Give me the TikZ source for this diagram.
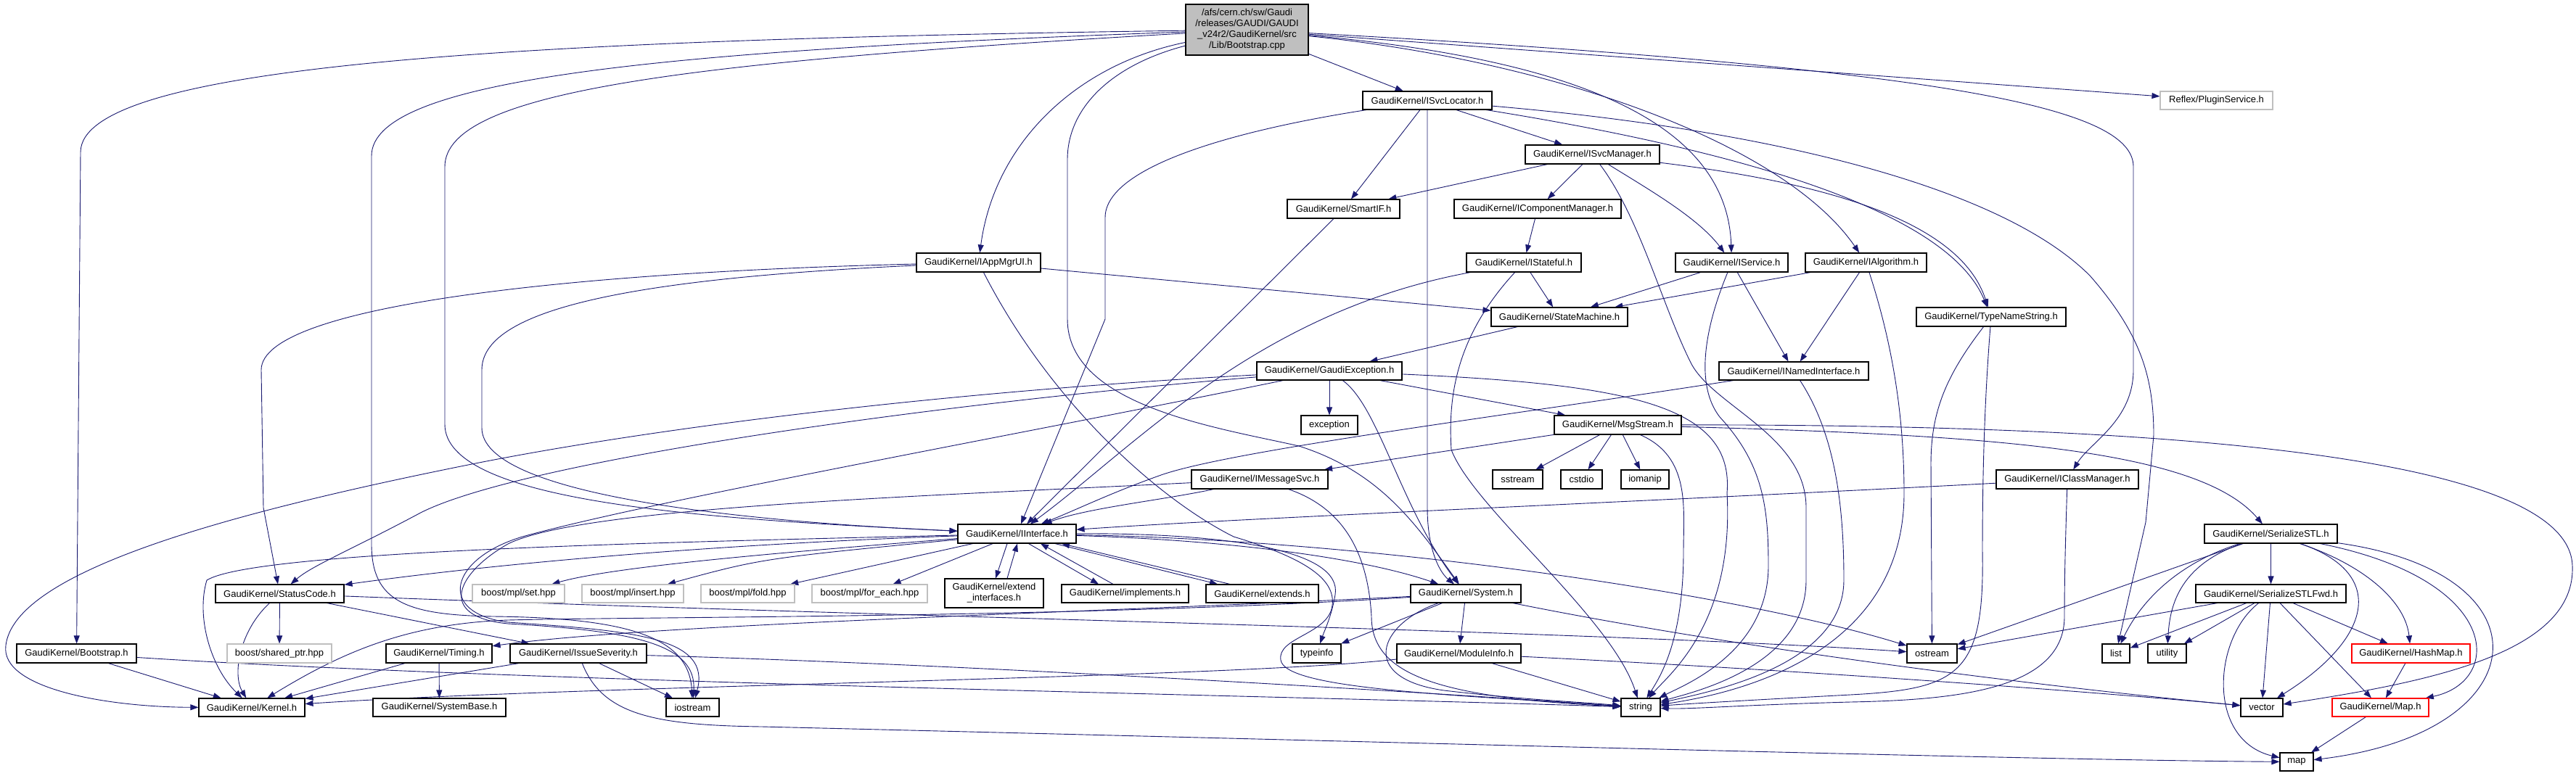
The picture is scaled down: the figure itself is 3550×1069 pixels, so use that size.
\documentclass[tikz,border=0pt]{standalone}
\usepackage{fontspec}
\newfontfamily\lsans{Liberation Sans}
\usetikzlibrary{arrows.meta,calc}
\definecolor{edgec}{HTML}{191970}
\definecolor{rootfill}{HTML}{BFBFBF}
\definecolor{greyline}{HTML}{BFBFBF}
\pgfdeclarelayer{bg}
\pgfsetlayers{bg,main}
\newcommand\mknode[6]{\node[#1,minimum width=#5pt,minimum height=#6pt] (#2) at (#3) {#4};}
\begin{document}
\begin{tikzpicture}[x=1pt,y=-1pt,
  nd/.style={draw=black,fill=white,line width=1.1pt,inner sep=0pt,align=center,font=\lsans\fontsize{13}{15}\selectfont},
  gnd/.style={nd,draw=greyline},
  rnd/.style={nd,draw=red},
  rootnd/.style={nd,fill=rootfill},
  e/.style={draw=edgec,line width=0.9pt,-{Triangle[length=11pt,width=8pt]}}]
\useasboundingbox (0,0) rectangle (3550,1069);
% nodes
\mknode{rootnd}{root}{1718.5,41}{/afs/cern.ch/sw/Gaudi\\/releases/GAUDI/GAUDI\\\_v24r2/GaudiKernel/src\\/Lib/Bootstrap.cpp}{169}{70}
\mknode{nd}{boot}{105.5,901}{GaudiKernel/Bootstrap.h}{165}{26}
\mknode{nd}{svcloc}{1967,138.5}{GaudiKernel/ISvcLocator.h}{178}{25}
\mknode{nd}{appmgr}{1348.5,362}{GaudiKernel/IAppMgrUI.h}{171}{26}
\mknode{nd}{svcmgr}{2194.5,213}{GaudiKernel/ISvcManager.h}{185}{26}
\mknode{nd}{smartif}{1851.5,288}{GaudiKernel/SmartIF.h}{155}{26}
\mknode{nd}{compmgr}{2119,288}{GaudiKernel/IComponentManager.h}{230}{26}
\mknode{nd}{stateful}{2100,362}{GaudiKernel/IStateful.h}{158}{26}
\mknode{nd}{iservice}{2386.5,362}{GaudiKernel/IService.h}{155}{26}
\mknode{nd}{ialgo}{2571.5,362}{GaudiKernel/IAlgorithm.h}{167}{26}
\mknode{nd}{statemach}{2149,437}{GaudiKernel/StateMachine.h}{188}{26}
\mknode{nd}{typename}{2744,437}{GaudiKernel/TypeNameString.h}{206}{26}
\mknode{nd}{gexc}{1832,511.5}{GaudiKernel/GaudiException.h}{200}{25}
\mknode{nd}{named}{2472,511.5}{GaudiKernel/INamedInterface.h}{206}{25}
\mknode{nd}{msgstream}{2229.5,586}{GaudiKernel/MsgStream.h}{175}{26}
\mknode{nd}{exception}{1832,586}{exception}{78}{26}
\mknode{nd}{msgsvc}{1736,661}{GaudiKernel/IMessageSvc.h}{188}{26}
\mknode{nd}{sstream}{2091.5,661}{sstream}{69}{26}
\mknode{nd}{cstdio}{2179.5,661}{cstdio}{57}{26}
\mknode{nd}{iomanip}{2267,661}{iomanip}{66}{26}
\mknode{nd}{classmgr}{2849,661}{GaudiKernel/IClassManager.h}{196}{26}
\mknode{gnd}{reflex}{3054.5,138.5}{Reflex/PluginService.h}{155}{25}
\mknode{nd}{iinterface}{1401.5,736}{GaudiKernel/IInterface.h}{163}{26}
\mknode{nd}{statuscode}{385.5,818.5}{GaudiKernel/StatusCode.h}{177}{25}
\mknode{gnd}{mplset}{714.5,818.5}{boost/mpl/set.hpp}{127}{25}
\mknode{gnd}{mplinsert}{872,818.5}{boost/mpl/insert.hpp}{140}{25}
\mknode{gnd}{mplfold}{1030.5,818.5}{boost/mpl/fold.hpp}{129}{25}
\mknode{gnd}{mplforeach}{1198.5,818.5}{boost/mpl/for\_each.hpp}{159}{25}
\mknode{nd}{extendif}{1370,818}{GaudiKernel/extend\\\_interfaces.h}{136}{40}
\mknode{nd}{implements}{1550.5,818.5}{GaudiKernel/implements.h}{175}{25}
\mknode{nd}{extends}{1739.5,818.5}{GaudiKernel/extends.h}{155}{25}
\mknode{nd}{system}{2020,818.5}{GaudiKernel/System.h}{152}{25}
\mknode{nd}{serstl}{3129.5,736}{GaudiKernel/SerializeSTL.h}{183}{26}
\mknode{nd}{serstlfwd}{3129.5,818.5}{GaudiKernel/SerializeSTLFwd.h}{207}{25}
\mknode{gnd}{sharedptr}{385,901}{boost/shared\_ptr.hpp}{144}{26}
\mknode{nd}{timing}{605,901}{GaudiKernel/Timing.h}{146}{26}
\mknode{nd}{issue}{797,901}{GaudiKernel/IssueSeverity.h}{188}{26}
\mknode{nd}{typeinfo}{1814.5,901}{typeinfo}{67}{26}
\mknode{nd}{moduleinfo}{2010.5,901}{GaudiKernel/ModuleInfo.h}{171}{26}
\mknode{nd}{ostream}{2662.5,901}{ostream}{69}{26}
\mknode{nd}{list}{2916,901}{list}{38}{26}
\mknode{nd}{utility}{2986.5,901}{utility}{53}{26}
\mknode{rnd}{hashmap}{3322.5,901}{GaudiKernel/HashMap.h}{163}{26}
\mknode{nd}{kernel}{347,975.5}{GaudiKernel/Kernel.h}{146}{25}
\mknode{nd}{sysbase}{605.5,975.5}{GaudiKernel/SystemBase.h}{183}{25}
\mknode{nd}{iostream}{954.5,975.5}{iostream}{73}{25}
\mknode{nd}{string}{2261,975.5}{string}{54}{25}
\mknode{nd}{vector}{3117,975.5}{vector}{58}{25}
\mknode{rnd}{mapH}{3280.5,975.5}{GaudiKernel/Map.h}{133}{25}
\mknode{nd}{map}{3165,1050.5}{map}{46}{25}
\begin{pgfonlayer}{bg}
\fill[white] (0,0) rectangle (3550,1069);
% root
\draw[e] (root) .. controls (700,55) and (111,90) .. (111,210) -- (boot);
\draw[e] (root) .. controls (900,70) and (512,110) .. (512,215) -- (512,750) .. controls (512,830) and (560,848) .. (680,850) .. controls (870,852) and (950,880) .. (iostream);
\draw[e] (root) .. controls (950,85) and (613,125) .. (613,230) -- (613,585) .. controls (613,690) and (950,715) .. (iinterface);
\draw[e] (root) .. controls (1480,90) and (1370,200) .. (appmgr);
\draw[e] (root) .. controls (1530,90) and (1471,150) .. (1471,220) -- (1471,440) .. controls (1471,560) and (1680,590) .. (1790,615) .. controls (1900,650) and (1950,720) .. (system);
\draw[e] (root) -- (svcloc);
\draw[e] (root) .. controls (2150,80) and (2380,160) .. (iservice);
\draw[e] (root) .. controls (2150,85) and (2460,200) .. (ialgo);
\draw[e] (root) -- (reflex);
\draw[e] (root) .. controls (2700,95) and (2940,150) .. (2940,230) -- (2940,510) .. controls (2940,580) and (2880,610) .. (classmgr);
% ISvcLocator
\draw[e] (svcloc) -- (svcmgr);
\draw[e] (svcloc) -- (smartif);
\draw[e] (svcloc) -- (1967,700) .. controls (1967,760) and (1985,790) .. (system);
\draw[e] (svcloc) .. controls (1700,180) and (1523,230) .. (1523,300) -- (1523,440) -- (iinterface);
\draw[e] (svcloc) .. controls (2350,200) and (2680,280) .. (typename);
\draw[e] (svcloc) .. controls (2450,180) and (2760,260) .. (2880,380) .. controls (2950,460) and (2968,520) .. (2968,600) -- (2957,720) -- (list);
% ISvcManager
\draw[e] (svcmgr) -- (smartif);
\draw[e] (svcmgr) -- (compmgr);
\draw[e] (svcmgr) .. controls (2270,260) and (2340,300) .. (iservice);
\draw[e] (svcmgr) .. controls (2500,250) and (2700,300) .. (typename);
\draw[e] (svcmgr) .. controls (2260,300) and (2290,420) .. (2330,500) .. controls (2360,560) and (2489,600) .. (2489,700) -- (2489,800) .. controls (2489,920) and (2330,955) .. (string);
\draw[e] (compmgr) -- (stateful);
\draw[e] (smartif) -- (iinterface);
% IStateful
\draw[e] (stateful) -- (statemach);
\draw[e] (stateful) .. controls (1730,430) and (1560,620) .. (iinterface);
\draw[e] (stateful) .. controls (2010,460) and (1995,540) .. (2000,620) .. controls (2030,700) and (2220,850) .. (string);
% IService
\draw[e] (iservice) -- (statemach);
\draw[e] (iservice) -- (named);
\draw[e] (iservice) .. controls (2350,450) and (2335,530) .. (2370,575) .. controls (2430,640) and (2437,700) .. (2437,780) .. controls (2437,900) and (2320,945) .. (string);
% IAlgorithm
\draw[e] (ialgo) -- (statemach);
\draw[e] (ialgo) -- (named);
\draw[e] (ialgo) .. controls (2610,480) and (2624,580) .. (2624,680) .. controls (2624,900) and (2400,955) .. (string);
% StateMachine, TypeNameString
\draw[e] (statemach) -- (gexc);
\draw[e] (typename) .. controls (2680,520) and (2661,570) .. (2661,640) -- (ostream);
\draw[e] (typename) .. controls (2735,550) and (2732,650) .. (2732,760) .. controls (2735,930) and (2700,950) .. (2550,958) .. controls (2420,965) and (2330,970) .. (string);
% INamedInterface
\draw[e] (named) .. controls (2100,570) and (1700,620) .. (1600,655) .. controls (1530,680) and (1490,700) .. (iinterface);
\draw[e] (named) .. controls (2530,600) and (2541,700) .. (2541,800) .. controls (2541,920) and (2350,955) .. (string);
% GaudiException
\draw[e] (gexc) -- (exception);
\draw[e] (gexc) -- (msgstream);
\draw[e] (gexc) .. controls (1900,560) and (1930,700) .. (system);
\draw[e] (gexc) .. controls (2250,530) and (2390,560) .. (2380,680) .. controls (2390,860) and (2300,930) .. (string);
\draw[e] (gexc) .. controls (1300,540) and (900,590) .. (650,640) .. controls (300,710) and (20,790) .. (8,890) .. controls (0,950) and (150,975) .. (kernel);
\draw[e] (gexc) .. controls (1250,560) and (700,640) .. (574,710) .. controls (480,760) and (430,780) .. (statuscode);
\draw[e] (gexc) .. controls (1400,600) and (900,690) .. (720,740) .. controls (620,770) and (600,845) .. (700,858) .. controls (880,870) and (980,880) .. (iostream);
% MsgStream
\draw[e] (msgstream) -- (msgsvc);
\draw[e] (msgstream) -- (sstream);
\draw[e] (msgstream) -- (cstdio);
\draw[e] (msgstream) -- (iomanip);
\draw[e] (msgstream) .. controls (2330,630) and (2320,700) .. (2320,760) .. controls (2320,880) and (2290,930) .. (string);
\draw[e] (msgstream) .. controls (2750,600) and (3030,620) .. (serstl);
\draw[e] (msgstream) .. controls (3000,585) and (3540,630) .. (3545,780) .. controls (3550,900) and (3350,940) .. (vector);
% IMessageSvc
\draw[e] (msgsvc) .. controls (1600,690) and (1500,700) .. (iinterface);
\draw[e] (msgsvc) .. controls (1850,700) and (1885,760) .. (1890,850) .. controls (1890,930) and (1980,962) .. (string);
\draw[e] (msgsvc) .. controls (1250,685) and (800,700) .. (700,750) .. controls (630,790) and (600,850) .. (700,860) .. controls (880,870) and (960,890) .. (iostream);
% IAppMgrUI
\draw[e] (appmgr) .. controls (800,375) and (360,420) .. (360,510) -- (363,700) -- (statuscode);
\draw[e] (appmgr) .. controls (850,385) and (664,430) .. (664,510) -- (664,590) .. controls (664,680) and (1000,718) .. (iinterface);
\draw[e] (appmgr) -- (statemach);
\draw[e] (appmgr) .. controls (1450,560) and (1600,690) .. (1700,740) .. controls (1800,770) and (1845,800) .. (1835,840) .. controls (1825,875) and (1760,880) .. (1765,910) .. controls (1770,950) and (2000,958) .. (string);
% IClassManager
\draw[e] (classmgr) .. controls (2300,690) and (1700,715) .. (iinterface);
\draw[e] (classmgr) .. controls (2846,760) and (2845,800) .. (2845,850) .. controls (2845,950) and (2700,965) .. (2550,968) .. controls (2400,972) and (2330,978) .. (string);
% IInterface
\draw[e] ($(iinterface.south)+(-13.5,0)$) -- ($(extendif.north)+(2,0)$);
\draw[e] ($(extendif.north)+(18,0)$) -- ($(iinterface.south)+(0.5,0)$);
\draw[e] ($(iinterface.south)+(16,0)$) -- ($(implements.north)+(-36.5,0)$);
\draw[e] ($(implements.north)+(-16.5,0)$) -- ($(iinterface.south)+(32.5,0)$);
\draw[e] ($(iinterface.south)+(52.5,0)$) -- ($(extends.north)+(-61.5,0)$);
\draw[e] ($(extends.north)+(-44.5,0)$) -- ($(iinterface.south)+(61.5,0)$);
\draw[e] (iinterface) -- (mplforeach);
\draw[e] (iinterface) -- (mplfold);
\draw[e] (iinterface) .. controls (1050,770) .. (mplinsert);
\draw[e] (iinterface) .. controls (1100,760) and (850,780) .. (mplset);
\draw[e] (iinterface) .. controls (1000,750) and (700,775) .. (statuscode);
\draw[e] (iinterface) .. controls (900,748) and (350,760) .. (285,800) .. controls (270,850) and (290,920) .. (kernel);
\draw[e] (iinterface) .. controls (1700,745) and (1880,770) .. (system);
\draw[e] (iinterface) .. controls (1700,735) and (1850,760) .. (1840,820) .. controls (1835,850) and (1825,870) .. (typeinfo);
\draw[e] (iinterface) .. controls (1900,745) and (2400,820) .. (ostream);
% StatusCode
\draw[e] (statuscode) .. controls (330,870) and (320,930) .. (kernel);
\draw[e] (statuscode) -- (sharedptr);
\draw[e] (statuscode) -- (issue);
\draw[e] (statuscode) .. controls (1200,850) and (2200,870) .. (ostream);
% Bootstrap.h, Timing, IssueSeverity
\draw[e] (boot) -- (kernel);
\draw[e] (boot) .. controls (700,940) and (1800,960) .. (string);
\draw[e] (timing) -- (kernel);
\draw[e] (timing) -- (sysbase);
\draw[e] (issue) -- (kernel);
\draw[e] (issue) -- (iostream);
\draw[e] (issue) .. controls (1300,915) and (1900,950) .. (string);
\draw[e] (issue) .. controls (830,985) and (900,1000) .. (1050,1002) .. controls (2000,1025) and (2800,1048) .. (map);
% ModuleInfo, System
\draw[e] ($(moduleinfo.west)+(0,8)$) .. controls (1700,935) and (800,945) .. (kernel);
\draw[e] (moduleinfo) -- (string);
\draw[e] (moduleinfo) .. controls (2500,925) and (2900,955) .. (vector);
\draw[e] (system) -- (typeinfo);
\draw[e] (system) -- (moduleinfo);
\draw[e] (system) .. controls (1900,860) and (1870,935) .. (1990,952) .. controls (2100,965) and (2180,968) .. (string);
\draw[e] (system) .. controls (1500,845) and (900,860) .. (timing);
\draw[e] (system) .. controls (1500,852) and (900,850) .. (700,855) .. controls (560,860) and (470,900) .. (kernel);
\draw[e] (system) .. controls (2450,905) and (2900,955) .. (vector);
% SerializeSTL
\draw[e] (serstl) -- (serstlfwd);
\draw[e] (serstl) -- (ostream);
\draw[e] (serstl) .. controls (2990,780) and (2945,840) .. (list);
\draw[e] (serstl) .. controls (3000,780) and (2990,840) .. (utility);
\draw[e] (serstl) .. controls (3290,790) and (3270,880) .. (vector);
\draw[e] (serstl) .. controls (3260,780) and (3315,830) .. (hashmap);
\draw[e] (serstl) .. controls (3450,800) and (3450,940) .. (mapH);
\draw[e] (serstl) .. controls (3520,790) and (3500,1010) .. (map);
% SerializeSTLFwd
\draw[e] (serstlfwd) -- (ostream);
\draw[e] (serstlfwd) -- (list);
\draw[e] (serstlfwd) -- (utility);
\draw[e] (serstlfwd) -- (vector);
\draw[e] (serstlfwd) .. controls (3050,880) and (3040,1020) .. (map);
\draw[e] (serstlfwd) -- (mapH);
\draw[e] (serstlfwd) -- (hashmap);
\draw[e] (hashmap) -- (mapH);
\draw[e] (mapH) -- (map);
\end{pgfonlayer}
\end{tikzpicture}
\end{document}
